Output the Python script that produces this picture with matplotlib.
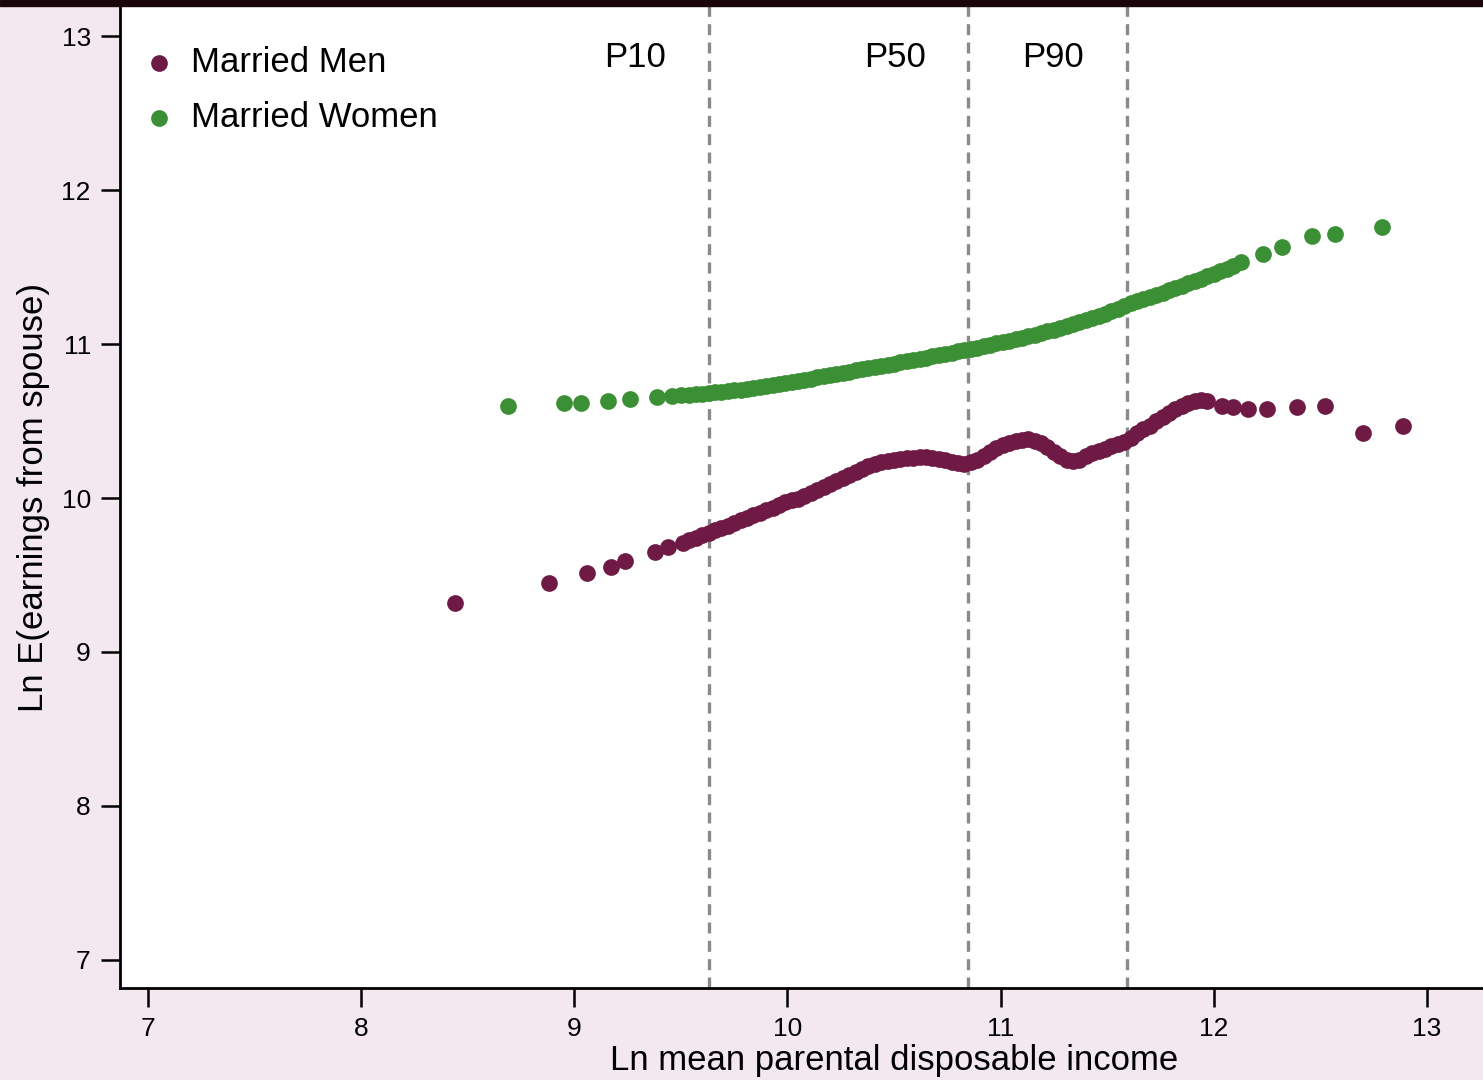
import matplotlib
matplotlib.use("Agg")
import matplotlib.pyplot as plt
from matplotlib.patches import Rectangle

plt.rcParams["font.family"] = ["Liberation Sans", "DejaVu Sans"]

# Married men: ln mean parental income vs ln E(earnings from spouse)
men_x = [8.44, 8.88, 9.06, 9.17, 9.24, 9.38, 9.44,
         9.51, 9.54, 9.57, 9.60, 9.63, 9.66, 9.69, 9.72, 9.75, 9.78, 9.81, 9.84,
         9.87, 9.90, 9.93, 9.96, 9.99, 10.02, 10.05, 10.08, 10.11, 10.14, 10.17,
         10.20, 10.23, 10.26, 10.29, 10.32, 10.35, 10.38, 10.41, 10.44, 10.47,
         10.50, 10.53, 10.56, 10.59, 10.62, 10.65, 10.68, 10.71, 10.74, 10.77,
         10.80, 10.83, 10.86, 10.89, 10.92, 10.95, 10.98, 11.01, 11.04, 11.07,
         11.10, 11.13, 11.16, 11.19, 11.22, 11.25, 11.28, 11.31, 11.34, 11.37,
         11.40, 11.43, 11.46, 11.49, 11.52, 11.55, 11.58, 11.61, 11.64, 11.67,
         11.70, 11.73, 11.76, 11.79, 11.82, 11.85, 11.88, 11.91, 11.94, 11.97,
         12.04, 12.09, 12.16, 12.25, 12.39, 12.52, 12.70, 12.89]
men_y = [9.32, 9.45, 9.51, 9.55, 9.59, 9.65, 9.68,
         9.71, 9.725, 9.74, 9.76, 9.775, 9.79, 9.805, 9.82, 9.84, 9.855, 9.873, 9.89,
         9.905, 9.92, 9.935, 9.955, 9.972, 9.985, 9.995, 10.01, 10.03, 10.05, 10.07,
         10.09, 10.11, 10.13, 10.15, 10.17, 10.19, 10.205, 10.22, 10.232, 10.242,
         10.25, 10.256, 10.26, 10.263, 10.265, 10.265, 10.262, 10.255, 10.245, 10.235,
         10.225, 10.222, 10.232, 10.25, 10.275, 10.30, 10.325, 10.345, 10.36, 10.37,
         10.378, 10.38, 10.372, 10.355, 10.33, 10.30, 10.27, 10.245, 10.238, 10.25,
         10.27, 10.29, 10.305, 10.32, 10.335, 10.35, 10.365, 10.39, 10.42, 10.445,
         10.47, 10.50, 10.525, 10.55, 10.58, 10.60, 10.62, 10.63, 10.635, 10.633,
         10.60, 10.59, 10.58, 10.58, 10.59, 10.60, 10.425, 10.47]

# Married women
women_x = [8.69, 8.95, 9.03, 9.16, 9.26, 9.39, 9.46, 9.50, 9.54,
           9.57, 9.60, 9.63, 9.66, 9.69, 9.72, 9.75, 9.78, 9.81, 9.84, 9.87,
           9.90, 9.93, 9.96, 9.99, 10.02, 10.05, 10.08, 10.11, 10.14, 10.17,
           10.20, 10.23, 10.26, 10.29, 10.32, 10.35, 10.38, 10.41, 10.44, 10.47,
           10.50, 10.53, 10.56, 10.59, 10.62, 10.65, 10.68, 10.71, 10.74, 10.77,
           10.80, 10.83, 10.86, 10.89, 10.92, 10.95, 10.98, 11.01, 11.04, 11.07,
           11.10, 11.13, 11.16, 11.19, 11.22, 11.25, 11.28, 11.31, 11.34, 11.37,
           11.40, 11.43, 11.46, 11.49, 11.52, 11.55, 11.58, 11.61, 11.64, 11.67,
           11.70, 11.73, 11.76, 11.79, 11.82, 11.85, 11.88, 11.91, 11.94, 11.97,
           12.00, 12.03, 12.06, 12.09, 12.13, 12.23, 12.32, 12.46, 12.57, 12.79]
women_y = [10.60, 10.62, 10.62, 10.633, 10.64, 10.653, 10.66, 10.666, 10.672,
           10.675, 10.678, 10.682, 10.686, 10.690, 10.694, 10.699, 10.704, 10.709, 10.715, 10.721,
           10.727, 10.732, 10.738, 10.745, 10.752, 10.760, 10.768, 10.776, 10.784, 10.792,
           10.800, 10.807, 10.814, 10.821, 10.828, 10.835, 10.842, 10.849, 10.856, 10.864,
           10.872, 10.880, 10.888, 10.896, 10.904, 10.912, 10.920, 10.928, 10.936, 10.944,
           10.952, 10.960, 10.968, 10.977, 10.986, 10.995, 11.004, 11.013, 11.022, 11.031,
           11.041, 11.051, 11.061, 11.072, 11.083, 11.094, 11.106, 11.118, 11.130, 11.143,
           11.156, 11.170, 11.184, 11.198, 11.213, 11.228, 11.250, 11.264, 11.278, 11.292,
           11.306, 11.320, 11.334, 11.349, 11.364, 11.379, 11.394, 11.409, 11.424, 11.440,
           11.456, 11.472, 11.488, 11.504, 11.531, 11.583, 11.628, 11.700, 11.713, 11.758]

pct_x = [9.631, 10.846, 11.592]
pct_labels = ["P10", "P50", "P90"]
pct_label_x = [9.284, 10.504, 11.245]

xticks = [7, 8, 9, 10, 11, 12, 13]
yticks = [7, 8, 9, 10, 11, 12, 13]

men_color = "#6e1a45"
women_color = "#3b8f34"
bg = "#f3e8ef"

fig = plt.figure(figsize=(14.83, 10.8), dpi=100, facecolor=bg)
ax = fig.add_axes([120 / 1483, 92 / 1080, 1 - 120 / 1483, (988 - 6) / 1080])
fig.patches.append(Rectangle((0, 1 - 6 / 1080), 1, 6 / 1080, transform=fig.transFigure,
                             color="#1a0508", zorder=5))

for xv in pct_x:
    ax.axvline(xv, color="#8a8a8a", lw=2.4, dashes=(3.3, 2.2), zorder=1)
for lx, lab in zip(pct_label_x, pct_labels):
    ax.text(lx, 12.86, lab, ha="center", va="center", fontsize=25)

ax.scatter(men_x, men_y, s=145, color=men_color, linewidths=0, label="Married Men", zorder=3)
ax.scatter(women_x, women_y, s=145, color=women_color, linewidths=0, label="Married Women", zorder=3)

ax.set_xlim(6.869, 13.263)
ax.set_ylim(6.818, 13.195)
ax.set_xticks(xticks)
ax.set_yticks(yticks)
ax.tick_params(axis="both", direction="out", length=14, width=1.8, labelsize=19, pad=7)
for s in ["top", "right"]:
    ax.spines[s].set_visible(False)
for s in ["left", "bottom"]:
    ax.spines[s].set_linewidth(2)

ax.set_xlabel("Ln mean parental disposable income", fontsize=25, labelpad=2)
ax.xaxis.label.set_x(0.568)
ax.set_ylabel("Ln E(earnings from spouse)", fontsize=25, labelpad=8)

ax.legend(loc="upper left", bbox_to_anchor=(0.0, 0.981), frameon=False, fontsize=25,
          handlelength=1.0, handletextpad=0.42, borderaxespad=0.22, labelspacing=0.62,
          markerscale=1.0)

plt.savefig("out.png", dpi=100, facecolor=bg)
